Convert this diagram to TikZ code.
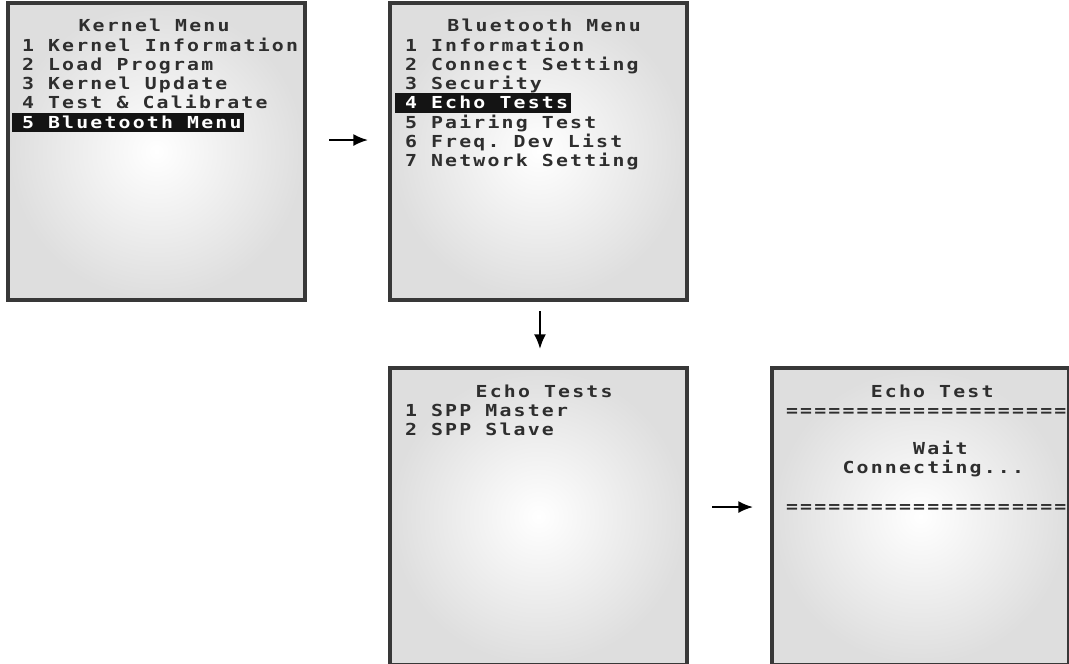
\documentclass[tikz,border=0pt]{standalone}
\usepackage{fontspec}
\usetikzlibrary{positioning,arrows.meta}
\newfontfamily\lcdfont{DejaVu Sans Mono}[FakeStretch=1.2, LetterSpace=13.2]
\newcommand{\lcdsize}{\fontsize{12.4pt}{14.4pt}\selectfont}
\newlength{\cw}
\newlength{\cwone}
\settowidth{\cw}{\lcdfont\bfseries\lcdsize xx}
\settowidth{\cwone}{\lcdfont\bfseries\lcdsize x}
\addtolength{\cw}{-\cwone}
\newcommand{\lcdsetup}{\lcdfont\bfseries\lcdsize\frenchspacing\setlength{\spaceskip}{\cw}}
\newcommand{\pad}[1]{\hspace*{#1\cw}}
\newcommand{\firstrow}{\rule{0pt}{21.75pt}}
% selected menu row: #1 = number of characters, #2 = text
\newcommand{\hl}[2]{%
  \makebox[0pt][l]{\hspace*{-7.5pt}\smash{\textcolor{black!92}{\rule[-3pt]{\dimexpr#1\cw+4.5pt\relax}{14.6pt}}}}%
  \textcolor{white}{#2}}

\begin{document}
\begin{tikzpicture}[
  x=1pt, y=1pt,
  screen/.style={rectangle, draw=black!78, line width=2.4pt, inner color=white,
    outer color=black!13, minimum width=222.75pt, minimum height=222.75pt,
    inner sep=0pt, outer sep=0pt},
  lcd/.style={anchor=north west, inner sep=0pt, outer sep=0pt, align=left,
    text=black!82, font=\lcdsetup},
  flow/.style={-{Latex[length=11pt, width=9pt]}, draw=black, line width=1.5pt},
]
\useasboundingbox (0,0) rectangle (801.75,-497.25);
\clip (0,0) rectangle (801.75,-497.25);

% ---- screens ----
\node[screen, anchor=north west] (kernel) at (6,-2.25) {};
\node[screen, right=63.75pt of kernel] (btmenu) {};
\node[screen, below=51pt of btmenu] (echomenu) {};
\node[screen, right=63.75pt of echomenu] (echotest) {};

% ---- screen texts ----
\node[lcd] (kerneltxt) at ([xshift=10.5pt]kernel.north west)
  {\firstrow\pad{4}Kernel Menu\\
   1 Kernel Information\\
   2 Load Program\\
   3 Kernel Update\\
   4 Test \& Calibrate\\
   \hl{16}{5 Bluetooth Menu}};

\node[lcd] (btmenutxt) at ([xshift=11.25pt]btmenu.north west)
  {\firstrow\pad{3}Bluetooth Menu\\
   1 Information\\
   2 Connect Setting\\
   3 Security\\
   \hl{12}{4 Echo Tests}\\
   5 Pairing Test\\
   6 Freq. Dev List\\
   7 Network Setting};

\node[lcd] (echomenutxt) at ([xshift=11.25pt]echomenu.north west)
  {\firstrow\pad{5}Echo Tests\\
   1 SPP Master\\
   2 SPP Slave};

\node[lcd] (echotesttxt) at ([xshift=10.5pt]echotest.north west)
  {\firstrow\pad{6}Echo Test\\
   ====================\\
   \mbox{}\\
   \pad{9}Wait\\
   \pad{4}Connecting...\\
   \mbox{}\\
   ====================};

% ---- arrows ----
\draw[flow, shorten <=18pt, shorten >=16.5pt]
  ([yshift=8.6pt]kernel.east) -- ([yshift=8.6pt]btmenu.west);
\draw[flow, shorten <=8.25pt, shorten >=14.25pt]
  ([xshift=1.1pt]btmenu.south) -- ([xshift=1.1pt]echomenu.north);
\draw[flow, shorten <=18.75pt, shorten >=14.25pt]
  ([yshift=7.1pt]echomenu.east) -- ([yshift=7.1pt]echotest.west);

\end{tikzpicture}
\end{document}
